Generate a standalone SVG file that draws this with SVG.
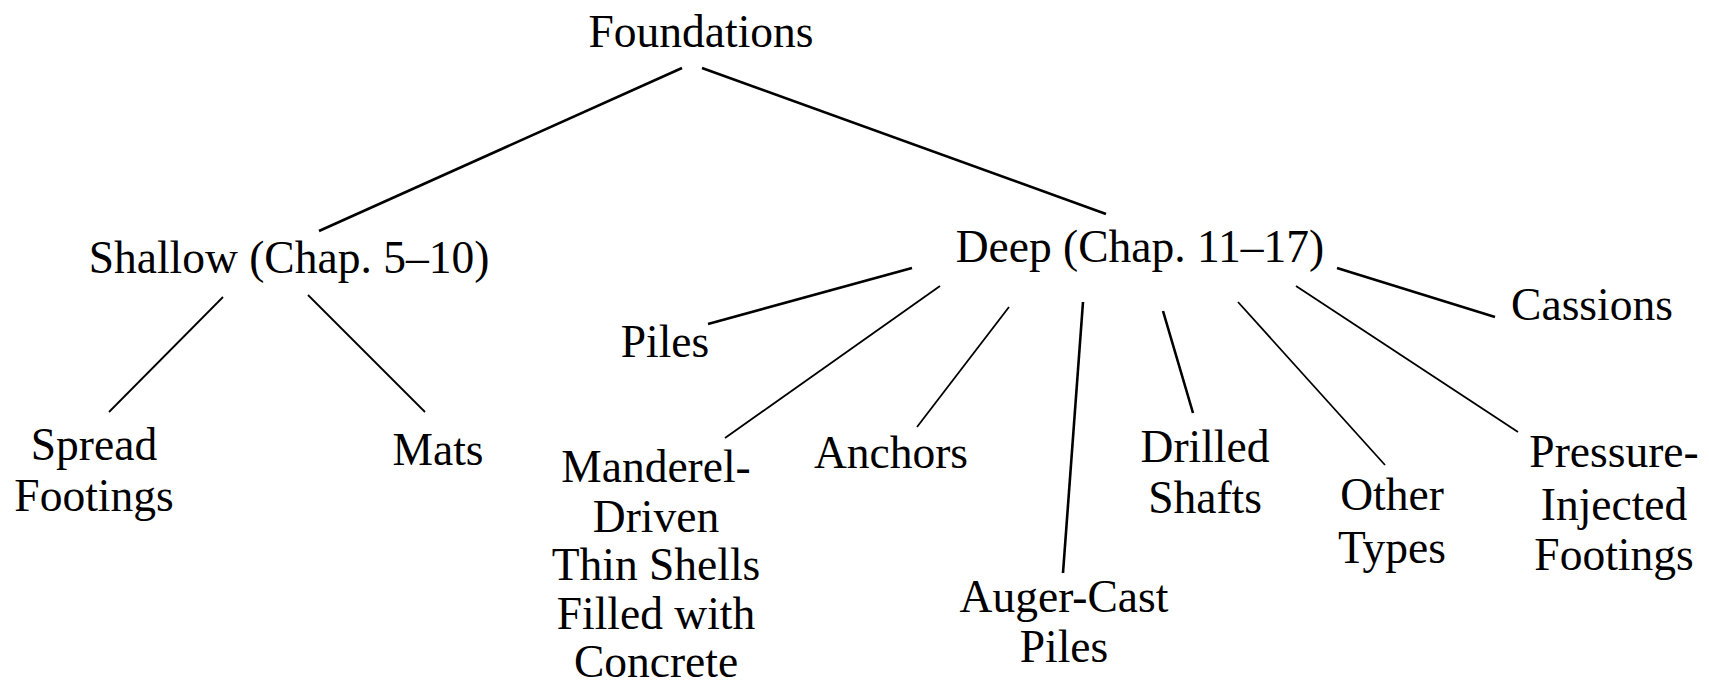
<svg xmlns="http://www.w3.org/2000/svg" width="1709" height="688" viewBox="0 0 1709 688">
<style>
.c line{stroke:#000;stroke-linecap:butt}
.thick{stroke-width:2.6}
.thin{stroke-width:1.8}
</style>
<rect width="1709" height="688" fill="#fff"/>
<g id="connectors" class="c">
<line class="thick" x1="682" y1="68" x2="319" y2="231"/>
<line class="thick" x1="702" y1="68" x2="1106" y2="214"/>
<line class="thin" x1="223" y1="297" x2="109" y2="412"/>
<line class="thin" x1="308" y1="295" x2="425" y2="412"/>
<line class="thick" x1="912" y1="268" x2="708" y2="324"/>
<line class="thin" x1="940" y1="286" x2="725" y2="438"/>
<line class="thin" x1="1009" y1="307" x2="917" y2="427"/>
<line class="thick" x1="1083" y1="302" x2="1063" y2="573"/>
<line class="thick" x1="1163" y1="311" x2="1193" y2="413"/>
<line class="thin" x1="1238" y1="302" x2="1385" y2="465"/>
<line class="thin" x1="1296" y1="286" x2="1518" y2="432"/>
<line class="thick" x1="1337" y1="268" x2="1495" y2="317"/>
</g>
<g font-family="Liberation Serif, Times New Roman, serif" font-size="45.5" fill="#000" text-anchor="middle">
<g id="foundations"><text x="701" y="47">Foundations</text></g>
<g id="shallow"><text x="289" y="273">Shallow (Chap. 5–10)</text></g>
<g id="deep"><text x="1140" y="262">Deep (Chap. 11–17)</text></g>
<g id="spread"><text x="94" y="460">Spread</text><text x="94" y="511">Footings</text></g>
<g id="mats"><text x="438" y="465">Mats</text></g>
<g id="piles"><text x="665" y="357">Piles</text></g>
<g id="manderel"><text x="656" y="482">Manderel-</text><text x="656" y="532">Driven</text><text x="656" y="580">Thin Shells</text><text x="656" y="629">Filled with</text><text x="656" y="677">Concrete</text></g>
<g id="anchors"><text x="891" y="468">Anchors</text></g>
<g id="auger"><text x="1064" y="612">Auger-Cast</text><text x="1064" y="662">Piles</text></g>
<g id="drilled"><text x="1205" y="462">Drilled</text><text x="1205" y="513">Shafts</text></g>
<g id="other"><text x="1392" y="510">Other</text><text x="1392" y="563">Types</text></g>
<g id="cassions"><text x="1592" y="320">Cassions</text></g>
<g id="pressure"><text x="1614" y="467">Pressure-</text><text x="1614" y="520">Injected</text><text x="1614" y="570">Footings</text></g>
</g>
</svg>
